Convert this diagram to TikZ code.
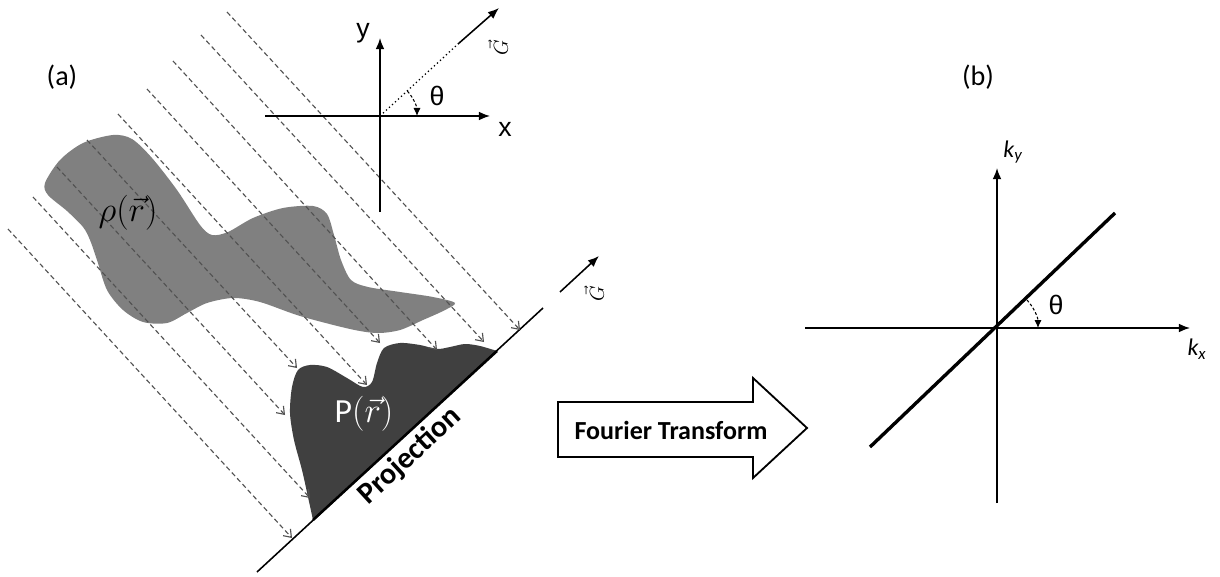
\documentclass[tikz,border=0pt]{standalone}
\usepackage{fontspec}
\setmainfont{Carlito}
\newfontfamily\axfont{Liberation Sans}
\usetikzlibrary{arrows.meta}

\begin{document}
\begin{tikzpicture}[
    x=0.025cm, y=-0.025cm,
    axis/.style={line width=1pt, -{Latex[length=2.8mm, width=2.2mm]}},
    ray/.style={black!68, line width=0.8pt, dash pattern=on 3.4pt off 2.2pt, -{Straight Barb[length=1.7mm, width=2.5mm]}},
    angarc/.style={line width=0.75pt, dash pattern=on 2pt off 1.5pt, -{Latex[length=2mm, width=1.8mm]}},
    gvec/.style={line width=1.1pt, -{Latex[length=2.8mm, width=2.2mm]}},
    lbl/.style={font=\fontsize{20}{24}\selectfont},
    axlbl/.style={font=\axfont\fontsize{19}{22}\selectfont},
    klbl/.style={font=\itshape\fontsize{17}{20}\selectfont},
    glbl/.style={rotate=90, font=\fontsize{15}{18}\selectfont}
]
\useasboundingbox (0,0) rectangle (1220,577);

% (a)
\node[lbl] (la) at (62,77) {(a)};

\fill[black!50] plot[smooth cycle] coordinates {
    (45,183) (60,160) (83,143) (113,135) (132,139) (152,158) (177,190) (200,225)
    (212,235) (228,232) (253,218) (283,208) (313,206) (327,214) (334,235) (341,260)
    (351,280) (368,287) (400,292) (433,297) (455,303) (443,311) (423,320) (400,330)
    (377,333) (350,329) (300,316) (260,302) (233,298) (207,303) (187,313) (167,323)
    (143,322) (123,310) (107,290) (97,260) (90,240) (83,227) (67,211) (48,195)};

\fill[black!75] plot[smooth] coordinates {
    (313,520) (308,497) (302,470) (294,440) (290,413) (292,387) (298,370) (310,365)
    (327,367) (347,378) (363,387) (372,382) (377,363) (384,348) (400,343) (420,345)
    (437,349) (450,347) (465,344) (480,346) (497,351)} -- cycle;

\coordinate (p1) at (257,572);
\coordinate (p2) at (543,308);
\coordinate (pb1) at (313,520);
\coordinate (pb2) at (497,351);
\draw[line width=1.1pt] (p1) -- (p2);
\draw[line width=1.8pt] (pb1) -- (pb2);

\foreach \i/\sx/\sy/\ex/\ey in {1/8/229/292/538, 2/33/197/310/498, 3/57/167/285/415,
    4/87/140/297/368, 5/118/114/367/385, 6/147/89/380/343, 7/173/61/437/350,
    8/201/35/484/342, 9/227/12/520/330} {
    \coordinate (s\i) at (\sx,\sy);
    \coordinate (e\i) at (\ex,\ey);
    \draw[ray] (s\i) -- (e\i);
}

\node[font=\fontsize{25}{30}\selectfont] (rho) at (128,213) {$\rho(\vec{r})$};
\node[text=white, font=\fontsize{24}{28}\selectfont] (pr) at (364,414) {P$(\vec{r})$};
\node[rotate=42.6, font=\bfseries\fontsize{21.5}{24}\selectfont] (proj) at (410,456) {Projection};

% projection direction
\coordinate (g3) at (560,292);
\coordinate (g4) at (599,256);
\draw[gvec] (g3) -- (g4);
\node[glbl] (g2lab) at (594,294) {$\vec{G}$};

% top axes
\coordinate (o1) at (380,116);
\coordinate (xl) at (265,116);
\coordinate (xr) at (490,116);
\coordinate (yb) at (380,212);
\coordinate (yt) at (380,38);
\coordinate (g1) at (458,44);
\coordinate (g2) at (499,8);
\draw[axis] (xl) -- (xr);
\draw[axis] (yb) -- (yt);
\draw[dotted, line width=0.9pt] (o1) -- (g1);
\draw[gvec] (g1) -- (g2);
\draw[angarc] ([shift={(-42:37)}]o1) arc[start angle=-42, end angle=0, radius=37];
\node[axlbl] (ylab) at (363,33) {y};
\node[axlbl] (xlab) at (505,129) {x};
\node[axlbl] (th1) at (437,96) {θ};
\node[glbl] (g1lab) at (498,48) {$\vec{G}$};

% Fourier transform arrow
\draw[line width=1.3pt] (558,402) -- (753,402) -- (753,378) -- (807,428)
    -- (753,478) -- (753,457) -- (558,457) -- cycle;
\node[font=\bfseries\fontsize{18.5}{22}\selectfont] (ft) at (671,430) {Fourier Transform};

% (b)
\node[lbl] (lb) at (978,77) {(b)};
\coordinate (o2) at (997,328);
\coordinate (kxl) at (805,328);
\coordinate (kxr) at (1190,328);
\coordinate (kyb) at (997,503);
\coordinate (kyt) at (997,168);
\coordinate (d1) at (870,447);
\coordinate (d2) at (1115,213);
\draw[axis] (kxl) -- (kxr);
\draw[axis] (kyb) -- (kyt);
\draw[line width=2.4pt] (d1) -- (d2);
\draw[angarc] ([shift={(-43:41)}]o2) arc[start angle=-43, end angle=0, radius=41];
\node[axlbl] (th2) at (1056,305) {θ};
\node[klbl] (ky) at (1013,152) {k\textsubscript{y}};
\node[klbl] (kx) at (1197,349) {k\textsubscript{x}};
\end{tikzpicture}
\end{document}
